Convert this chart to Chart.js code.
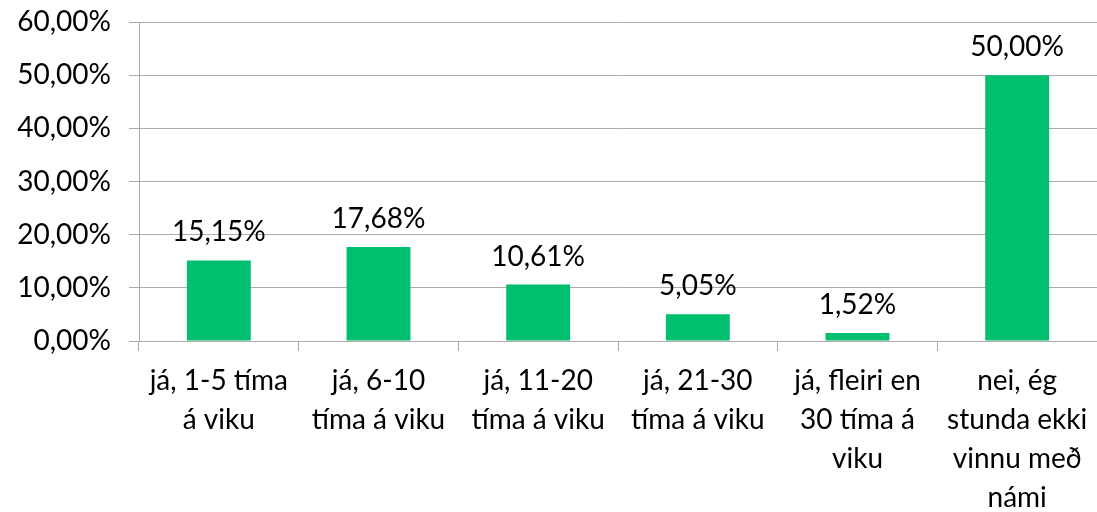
<!DOCTYPE html>
<html>
<head>
<meta charset="utf-8">
<script src="https://cdn.jsdelivr.net/npm/chart.js@4/dist/chart.umd.min.js"></script>
<style>
html,body{margin:0;padding:0;background:#fff;}
#wrap{width:1097px;height:512px;position:relative;}
</style>
</head>
<body>
<div id="wrap"><canvas id="c" width="1097" height="512"></canvas></div>
<script>
const categories = [
  ["já, 1-5 tíma", "á viku"],
  ["já, 6-10", "tíma á viku"],
  ["já, 11-20", "tíma á viku"],
  ["já, 21-30", "tíma á viku"],
  ["já, fleiri en", "30 tíma á", "viku"],
  ["nei, ég", "stunda ekki", "vinnu með", "námi"]
];
const values = [15.15, 17.68, 10.61, 5.05, 1.52, 50.00];
const yTicks = [0, 10, 20, 30, 40, 50, 60];

const fmt = v => v.toFixed(2).replace('.', ',') + '%';
const FONT = 'Lato';

const valueLabels = {
  id: 'valueLabels',
  afterDatasetsDraw(chart) {
    const ctx = chart.ctx;
    const meta = chart.getDatasetMeta(0);
    ctx.save();
    ctx.font = '28px ' + FONT;
    ctx.fillStyle = '#000';
    ctx.textAlign = 'center';
    ctx.textBaseline = 'alphabetic';
    meta.data.forEach((bar, i) => {
      ctx.fillText(fmt(values[i]), bar.x, bar.y - 19);
    });
    ctx.restore();
  }
};

new Chart(document.getElementById('c'), {
  type: 'bar',
  data: {
    labels: categories,
    datasets: [{
      data: values,
      backgroundColor: '#00BF6F',
      borderWidth: 0,
      categoryPercentage: 0.8,
      barPercentage: 0.5
    }]
  },
  options: {
    responsive: false,
    animation: false,
    events: [],
    layout: { padding: { top: 22, right: -2, left: 0, bottom: 0 } },
    plugins: { legend: { display: false }, tooltip: { enabled: false } },
    scales: {
      y: {
        min: 0, max: 60,
        afterBuildTicks(scale) { scale.ticks = yTicks.map(v => ({ value: v })); },
        afterFit(scale) { scale.width = 139; scale.paddingTop = 0; scale.paddingBottom = 0; },
        ticks: {
          callback: v => v.toFixed(2).replace('.', ',') + '%',
          font: { family: FONT, size: 28 },
          color: '#000',
          padding: 18
        },
        grid: { color: '#ababab', lineWidth: 1, tickLength: 10 },
        border: { color: '#ababab', width: 1 }
      },
      x: {
        afterFit(scale) { scale.height = 171; scale.paddingLeft = 0; scale.paddingRight = 0; },
        ticks: {
          font: { family: FONT, size: 28, lineHeight: 1.4 },
          color: '#000',
          padding: 10,
          maxRotation: 0,
          autoSkip: false
        },
        grid: { offset: true, drawOnChartArea: false, color: '#ababab', tickLength: 10 },
        border: { color: '#ababab', width: 1 }
      }
    }
  },
  plugins: [valueLabels]
});
</script>
</body>
</html>
